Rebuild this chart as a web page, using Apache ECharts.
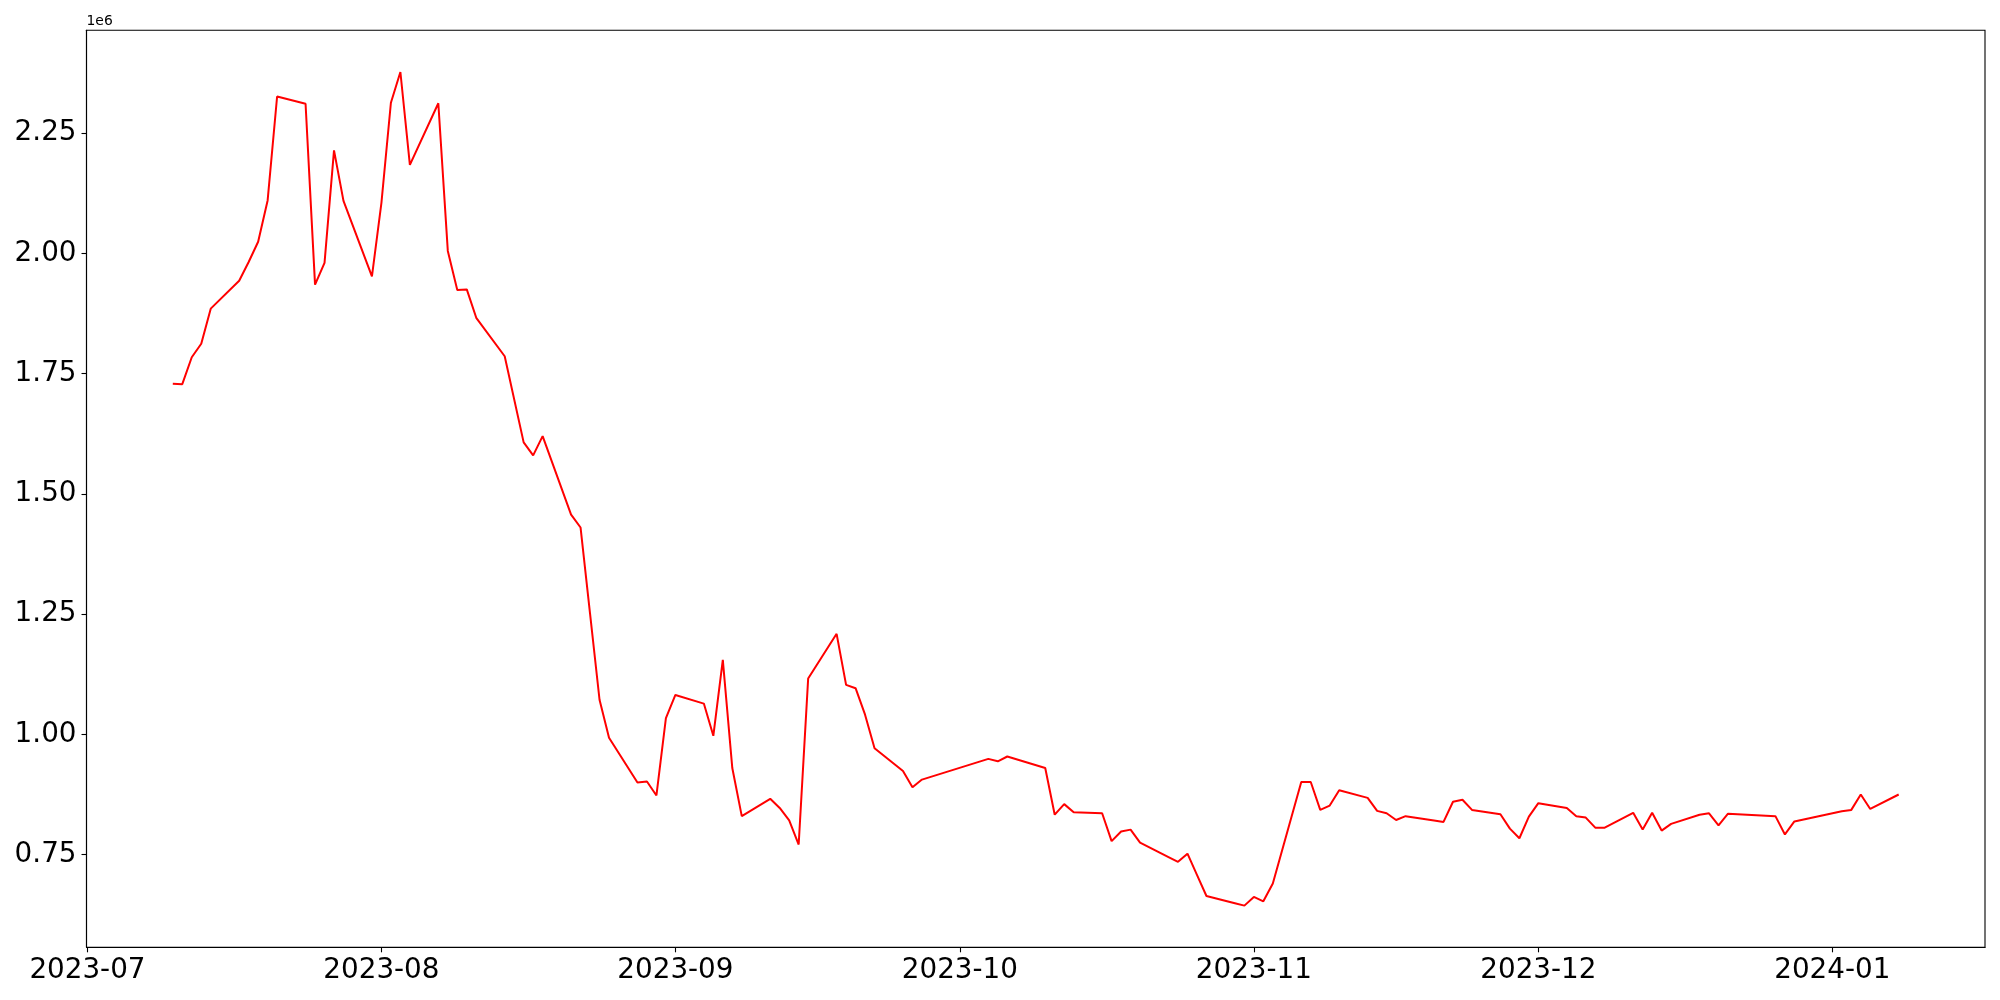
<!DOCTYPE html>
<html>
<head>
<meta charset="utf-8">
<script src="https://cdn.jsdelivr.net/npm/echarts@6/dist/echarts.min.js"></script>
<style>
  html, body { margin: 0; padding: 0; background: #fff; }
  #main { width: 2000px; height: 1000px; }
</style>
</head>
<body>
<div id="main"></div>
<script>
// trading days (KRX calendar) and values, in units of 1e6
var dates = [
  '2023-07-10', '2023-07-11', '2023-07-12', '2023-07-13', '2023-07-14',
  '2023-07-17', '2023-07-18', '2023-07-19', '2023-07-20', '2023-07-21',
  '2023-07-24', '2023-07-25', '2023-07-26', '2023-07-27', '2023-07-28',
  '2023-07-31', '2023-08-01', '2023-08-02', '2023-08-03', '2023-08-04',
  '2023-08-07', '2023-08-08', '2023-08-09', '2023-08-10', '2023-08-11',
  '2023-08-14', '2023-08-16', '2023-08-17', '2023-08-18',
  '2023-08-21', '2023-08-22', '2023-08-23', '2023-08-24', '2023-08-25',
  '2023-08-28', '2023-08-29', '2023-08-30', '2023-08-31', '2023-09-01',
  '2023-09-04', '2023-09-05', '2023-09-06', '2023-09-07', '2023-09-08',
  '2023-09-11', '2023-09-12', '2023-09-13', '2023-09-14', '2023-09-15',
  '2023-09-18', '2023-09-19', '2023-09-20', '2023-09-21', '2023-09-22',
  '2023-09-25', '2023-09-26', '2023-09-27',
  '2023-10-04', '2023-10-05', '2023-10-06',
  '2023-10-10', '2023-10-11', '2023-10-12', '2023-10-13',
  '2023-10-16', '2023-10-17', '2023-10-18', '2023-10-19', '2023-10-20',
  '2023-10-23', '2023-10-24', '2023-10-25', '2023-10-26', '2023-10-27',
  '2023-10-30', '2023-10-31', '2023-11-01', '2023-11-02', '2023-11-03',
  '2023-11-06', '2023-11-07', '2023-11-08', '2023-11-09', '2023-11-10',
  '2023-11-13', '2023-11-14', '2023-11-15', '2023-11-16', '2023-11-17',
  '2023-11-20', '2023-11-21', '2023-11-22', '2023-11-23', '2023-11-24',
  '2023-11-27', '2023-11-28', '2023-11-29', '2023-11-30', '2023-12-01',
  '2023-12-04', '2023-12-05', '2023-12-06', '2023-12-07', '2023-12-08',
  '2023-12-11', '2023-12-12', '2023-12-13', '2023-12-14', '2023-12-15',
  '2023-12-18', '2023-12-19', '2023-12-20', '2023-12-21', '2023-12-22',
  '2023-12-26', '2023-12-27', '2023-12-28',
  '2024-01-02', '2024-01-03', '2024-01-04', '2024-01-05', '2024-01-08'
];
var values = [
  1.729, 1.728, 1.784, 1.812, 1.885,
  1.943, 1.982, 2.024, 2.110, 2.326,
  2.311, 1.935, 1.980, 2.214, 2.109,
  1.952, 2.105, 2.313, 2.377, 2.184,
  2.312, 2.005, 1.924, 1.925, 1.866,
  1.786, 1.607, 1.580, 1.620,
  1.457, 1.430, 1.251, 1.072, 0.993,
  0.900, 0.902, 0.873, 1.034, 1.082,
  1.064, 0.997, 1.155, 0.930, 0.830,
  0.866, 0.847, 0.821, 0.771, 1.116,
  1.209, 1.103, 1.096, 1.041, 0.971,
  0.924, 0.890, 0.906,
  0.949, 0.944, 0.954,
  0.930, 0.833, 0.855, 0.838,
  0.836, 0.778, 0.798, 0.802, 0.775,
  0.745, 0.735, 0.752, 0.708, 0.664,
  0.649, 0.644, 0.662, 0.653, 0.690,
  0.901, 0.901, 0.843, 0.852, 0.884,
  0.868, 0.841, 0.836, 0.822, 0.830,
  0.821, 0.818, 0.860, 0.864, 0.843,
  0.834, 0.804, 0.784, 0.829, 0.857,
  0.847, 0.830, 0.827, 0.806, 0.806,
  0.837, 0.802, 0.837, 0.800, 0.814,
  0.833, 0.836, 0.811, 0.835, 0.834,
  0.830, 0.792, 0.819,
  0.840, 0.843, 0.875, 0.845, 0.875
];
var monthTicks = ['2023-07-01', '2023-08-01', '2023-09-01', '2023-10-01', '2023-11-01', '2023-12-01', '2024-01-01'];
var yTicks = [0.75, 1.00, 1.25, 1.50, 1.75, 2.00, 2.25];

function toTime(s) {
  var p = s.split('-');
  return new Date(+p[0], +p[1] - 1, +p[2]).getTime();
}

var times = dates.map(toTime);
var seriesData = times.map(function (t, i) { return [t, values[i]]; });
var monthTimes = monthTicks.map(toTime);

// matplotlib style 5% margins
var tSpan = times[times.length - 1] - times[0];
var xMin = times[0] - 0.05 * tSpan;
var xMax = times[times.length - 1] + 0.05 * tSpan;
var vMin = Math.min.apply(null, values), vMax = Math.max.apply(null, values);
var yMin = vMin - 0.05 * (vMax - vMin);
var yMax = vMax + 0.05 * (vMax - vMin);

var chart = echarts.init(document.getElementById('main'), null, { renderer: 'canvas' });
var font = 'DejaVu Sans';
var option = {
  backgroundColor: '#fff',
  animation: false,
  textStyle: { fontFamily: font },
  grid: {
    left: 86.5, right: 15, top: 30.3, bottom: 52.7,
    show: true, borderColor: '#000', borderWidth: 1.1, backgroundColor: 'transparent'
  },
  xAxis: {
    type: 'value',
    min: xMin,
    max: xMax,
    splitLine: { show: false },
    axisLine: { show: true, onZero: false, lineStyle: { color: '#000', width: 1.1 } },
    axisTick: {
      show: true, length: 5, lineStyle: { color: '#000', width: 1.1 },
      customValues: monthTimes
    },
    axisLabel: {
      color: '#000', fontSize: 27.8, fontFamily: font, margin: 9,
      customValues: monthTimes,
      formatter: function (v) {
        var d = new Date(v);
        var m = d.getMonth() + 1;
        return d.getFullYear() + '-' + (m < 10 ? '0' + m : m);
      }
    }
  },
  yAxis: {
    type: 'value',
    min: yMin,
    max: yMax,
    name: '1e6',
    nameLocation: 'end',
    nameGap: 1.5,
    nameTextStyle: { color: '#000', fontSize: 13.9, fontFamily: font, align: 'left', padding: [0, 0, 0, 0] },
    splitLine: { show: false },
    axisLine: { show: true, onZero: false, lineStyle: { color: '#000', width: 1.1 } },
    axisTick: {
      show: true, length: 5, lineStyle: { color: '#000', width: 1.1 },
      customValues: yTicks
    },
    axisLabel: {
      color: '#000', fontSize: 27.8, fontFamily: font, margin: 10,
      customValues: yTicks,
      formatter: function (v) { return v.toFixed(2); }
    }
  },
  series: [{
    type: 'line',
    data: seriesData,
    showSymbol: false,
    symbol: 'none',
    lineStyle: { color: '#ff0000', width: 2 },
    itemStyle: { color: '#ff0000' }
  }]
};
chart.setOption(option);
</script>
</body>
</html>
